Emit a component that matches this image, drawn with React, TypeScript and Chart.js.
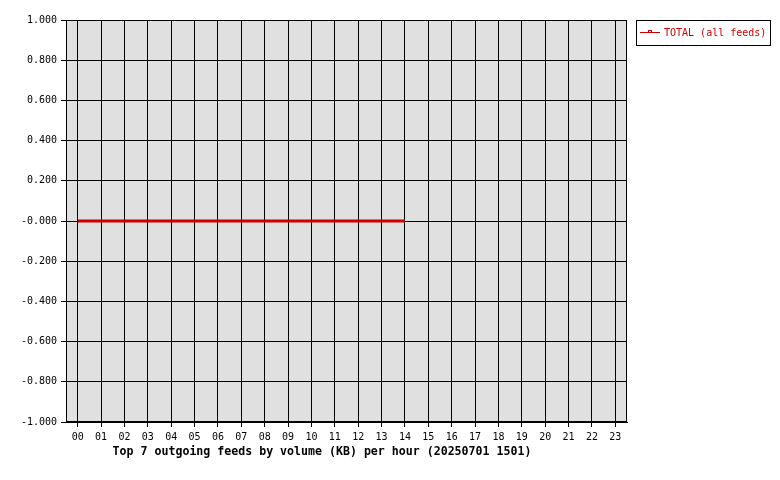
import React, { useEffect, useRef } from 'react';
import { Chart, registerables } from 'chart.js';

Chart.register(...registerables);

// hours along the x axis
const hours = ['00', '01', '02', '03', '04', '05', '06', '07', '08', '09', '10', '11',
  '12', '13', '14', '15', '16', '17', '18', '19', '20', '21', '22', '23'];
// total KB per hour (only 00..14 reported)
const totalKB: (number | null)[] = [0, 0, 0, 0, 0, 0, 0, 0, 0, 0, 0, 0, 0, 0, 0,
  null, null, null, null, null, null, null, null, null];
const seriesLabel = 'TOTAL (all feeds)';
const chartTitle = 'Top 7 outgoing feeds by volume (KB) per hour (20250701 1501)';

const RED = '#cc0000';
const MONO = '"DejaVu Sans Mono", "Liberation Mono", monospace';

// grey plot background + frame
const framePlugin = {
  id: 'frame',
  beforeDraw(chart: any) {
    const { ctx, chartArea: a } = chart;
    ctx.save();
    ctx.fillStyle = '#e0e0e0';
    ctx.fillRect(a.left, a.top, a.right - a.left, a.bottom - a.top);
    ctx.restore();
  },
  afterDraw(chart: any) {
    const { ctx, chartArea: a } = chart;
    ctx.save();
    ctx.strokeStyle = '#000';
    ctx.lineWidth = 1;
    ctx.strokeRect(Math.round(a.left) + 0.5, Math.round(a.top) + 0.5,
      Math.round(a.right - a.left) - 1, Math.round(a.bottom - a.top) - 1);

    // legend box on the right
    ctx.strokeRect(636.5, 20.5, 134, 25);
    ctx.strokeStyle = RED;
    ctx.beginPath();
    ctx.moveTo(640, 32.5);
    ctx.lineTo(660, 32.5);
    ctx.stroke();
    ctx.strokeRect(648.5, 30.5, 3, 2);
    ctx.fillStyle = RED;
    ctx.font = '10px ' + MONO;
    ctx.textBaseline = 'middle';
    ctx.textAlign = 'left';
    ctx.fillText(seriesLabel, 664, 33);

    // title under the axis
    ctx.fillStyle = '#000';
    ctx.font = 'bold 11.6px ' + MONO;
    ctx.textAlign = 'center';
    ctx.fillText(chartTitle, 322, 452);
    ctx.restore();
  },
};

const FeedChart: React.FC = () => {
  const canvasRef = useRef<HTMLCanvasElement | null>(null);
  const chartRef = useRef<Chart | null>(null);

  useEffect(() => {
    if (!canvasRef.current) return;
    const ctx = canvasRef.current.getContext('2d');
    if (!ctx) return;
    if (chartRef.current) chartRef.current.destroy();

    chartRef.current = new Chart(ctx, {
      type: 'line',
      data: {
        labels: hours,
        datasets: [
          {
            label: seriesLabel,
            data: totalKB,
            borderColor: RED,
            backgroundColor: RED,
            borderWidth: 3,
            pointRadius: 0,
            tension: 0,
            spanGaps: false,
          },
        ],
      },
      options: {
        animation: false,
        responsive: true,
        maintainAspectRatio: false,
        layout: { padding: { left: 0, top: 20, right: 153, bottom: 0 } },
        plugins: {
          legend: { display: false },
          tooltip: { enabled: false },
        },
        scales: {
          x: {
            offset: true,
            grid: {
              offset: false,
              color: '#000',
              lineWidth: 1,
              tickLength: 5,
              drawOnChartArea: true,
            },
            border: { display: true, color: '#000' },
            ticks: {
              color: '#000',
              font: { family: MONO, size: 10 },
              padding: 4,
              maxRotation: 0,
              autoSkip: false,
            },
            afterFit: (s: any) => { s.height = 58; },
          },
          y: {
            min: -1,
            max: 1,
            grid: { color: '#000', lineWidth: 1, tickLength: 5 },
            border: { display: true, color: '#000' },
            ticks: {
              stepSize: 0.2,
              color: '#000',
              font: { family: MONO, size: 10 },
              padding: 4,
              callback: (v: any) => {
                const n = Number(v);
                return Math.abs(n) < 1e-9 ? '-0.000' : n.toFixed(3);
              },
            },
            afterFit: (s: any) => { s.width = 66; },
          },
        },
      },
      plugins: [framePlugin],
    });

    return () => {
      if (chartRef.current) {
        chartRef.current.destroy();
        chartRef.current = null;
      }
    };
  }, []);

  return (
    <div style={{ position: 'fixed', left: 0, top: 0, width: '780px', height: '480px', background: '#fff' }}>
      <canvas ref={canvasRef}></canvas>
    </div>
  );
};

export default function App() {
  return <FeedChart />;
}
